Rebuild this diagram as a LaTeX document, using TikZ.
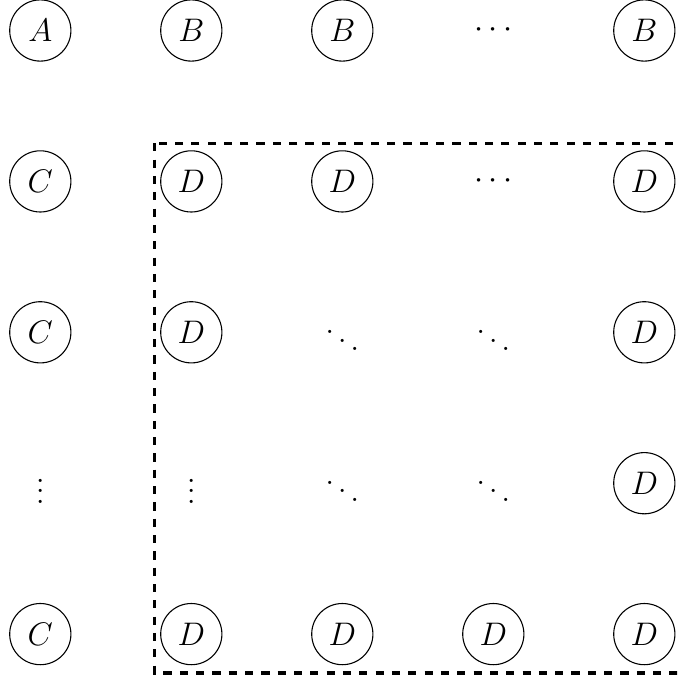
\documentclass[tikz,border=0pt]{standalone}
\begin{document}
\begin{tikzpicture}[x=0.3676pt,y=-0.3676pt,
  font=\fontsize{12}{14.4}\selectfont,
  cnode/.style={circle,draw,line width=0.4pt,minimum size=22.5pt,inner sep=0pt},
  dotnode/.style={inner sep=0pt},
  frame/.style={dashed,line width=1.15pt}]
\useasboundingbox (0,0) rectangle (677,678);
\clip (0,0) rectangle (677,678);
% row 1
\node[cnode] (a11) at (40.3,30.5) {$A$};
\node[cnode] (a12) at (191.3,30.5) {$B$};
\node[cnode] (a13) at (342.3,30.5) {$B$};
\node[dotnode] (a14) at (493.3,30.5) {$\cdots$};
\node[cnode] (a15) at (644.3,30.5) {$B$};
% row 2
\node[cnode] (a21) at (40.3,181.4) {$C$};
\node[cnode] (a22) at (191.3,181.4) {$D$};
\node[cnode] (a23) at (342.3,181.4) {$D$};
\node[dotnode] (a24) at (493.3,181.4) {$\cdots$};
\node[cnode] (a25) at (644.3,181.4) {$D$};
% row 3
\node[cnode] (a31) at (40.3,332.3) {$C$};
\node[cnode] (a32) at (191.3,332.3) {$D$};
\node[dotnode] (a33) at (342.3,332.3) {$\ddots$};
\node[dotnode] (a34) at (493.3,332.3) {$\ddots$};
\node[cnode] (a35) at (644.3,332.3) {$D$};
% row 4
\node[dotnode] (a41) at (40.3,483.2) {$\vdots$};
\node[dotnode] (a42) at (191.3,483.2) {$\vdots$};
\node[dotnode] (a43) at (342.3,483.2) {$\ddots$};
\node[dotnode] (a44) at (493.3,483.2) {$\ddots$};
\node[cnode] (a45) at (644.3,483.2) {$D$};
% row 5
\node[cnode] (a51) at (40.3,634.1) {$C$};
\node[cnode] (a52) at (191.3,634.1) {$D$};
\node[cnode] (a53) at (342.3,634.1) {$D$};
\node[cnode] (a54) at (493.3,634.1) {$D$};
\node[cnode] (a55) at (644.3,634.1) {$D$};
% dashed frame
\coordinate (ftl) at (154.5,143.3);
\coordinate (fbr) at (700,673);
\draw[frame] (ftl) rectangle (fbr);
\end{tikzpicture}
\end{document}
